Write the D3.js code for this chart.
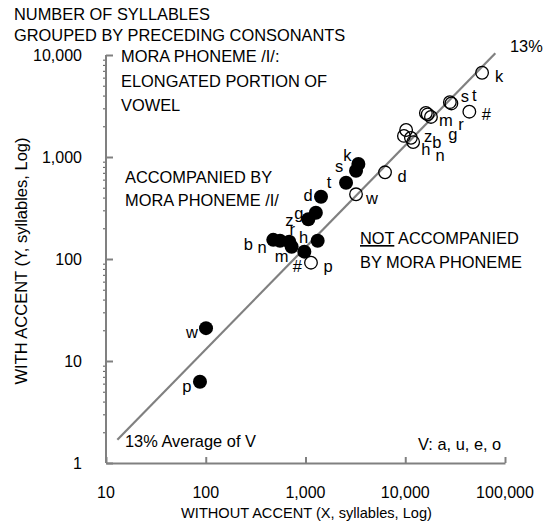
<!DOCTYPE html>
<html>
<head>
<meta charset="utf-8">
<script src="https://cdn.jsdelivr.net/npm/d3@7"></script>
<style>
  body { margin: 0; background: #fff; }
  text { font-family: "Liberation Sans", Arial, sans-serif; fill: #000; }
</style>
</head>
<body>
<div id="chart"></div>
<script>

// consonants, syllables without accent (x) and with accent (y)
var openLabels = ["k", "s", "t", "#", "m", "g", "r", "z", "h", "b", "n", "d", "w", "p"];
var openX = [58900, 28000, 29000, 43900, 16100, 16800, 18100, 10200, 9700, 11400, 12000, 6270, 3210, 1135];
var openY = [6700, 3450, 3350, 2780, 2700, 2620, 2470, 1840, 1610, 1540, 1400, 708, 431, 92];

var filledLabels = ["k", "s", "t", "d", "g", "z", "h", "b", "n", "r", "m", "#", "w", "p"];
var filledX = [3390, 3210, 2550, 1430, 1270, 1067, 1324, 475, 555, 687, 726, 973, 100.6, 87.5];
var filledY = [853, 734, 560, 408, 284, 245, 151, 154, 151, 148, 132, 118, 21, 6.27];

var xTicks = [10, 100, 1000, 10000, 100000];
var yTicks = [1, 10, 100, 1000, 10000];
var averageRate = 0.13;
var lineRange = [13, 80000];

var width = 543,
  height = 524,
  margin = {top: 55, right: 38, bottom: 61, left: 106},
  innerWidth = width - margin.left - margin.right,
  innerHeight = height - margin.top - margin.bottom;

var axisColor = "#808080";

var svg = d3.select("#chart").append("svg")
  .attr("width", width)
  .attr("height", height);

var g = svg.append("g")
  .attr("transform", "translate(" + margin.left + "," + margin.top + ")");

var xScale = d3.scaleLog().domain([10, 100000]).range([0, innerWidth]);
var yScale = d3.scaleLog().domain([1, 10000]).range([innerHeight, 0]);

// minor ticks on y (outside)
var yMinor = [];
yTicks.slice(0, -1).forEach(function(t) {
  for (var k = 2; k < 10; k++) yMinor.push(t * k);
});
g.append("g")
  .call(d3.axisLeft(yScale).tickValues(yMinor).tickSize(3).tickFormat(""))
  .call(function(a) {
    a.select(".domain").remove();
    a.selectAll("line").attr("stroke", "#555").attr("stroke-width", 1);
  });

// y axis: major ticks inside
var yAxisG = g.append("g")
  .call(d3.axisRight(yScale).tickValues(yTicks).tickSize(7).tickSizeOuter(0).tickFormat(""));
yAxisG.select(".domain").attr("stroke", axisColor).attr("stroke-width", 2)
  .attr("d", "M0," + yScale(10000) + "V" + yScale(1));
yAxisG.selectAll("line").attr("stroke", axisColor).attr("stroke-width", 2);

g.selectAll(".ylab")
  .data(yTicks)
  .enter().append("text")
  .attr("class", "ylab")
  .attr("x", -24)
  .attr("y", function(d) { return yScale(d) + 6; })
  .attr("text-anchor", "end")
  .attr("font-size", "16px")
  .text(d3.format(","));

// x axis: major ticks inside
var xAxisG = g.append("g")
  .attr("transform", "translate(0," + innerHeight + ")")
  .call(d3.axisTop(xScale).tickValues(xTicks).tickSize(6).tickSizeOuter(0).tickFormat(""));
xAxisG.select(".domain").attr("stroke", axisColor).attr("stroke-width", 2);
xAxisG.selectAll("line").attr("stroke", axisColor).attr("stroke-width", 2);

g.selectAll(".xlab")
  .data(xTicks)
  .enter().append("text")
  .attr("class", "xlab")
  .attr("x", function(d) { return xScale(d); })
  .attr("y", innerHeight + 35)
  .attr("text-anchor", "middle")
  .attr("font-size", "16px")
  .text(d3.format(","));

// axis titles
svg.append("text")
  .attr("x", margin.left + innerWidth / 2 + 1)
  .attr("y", 518)
  .attr("text-anchor", "middle")
  .attr("font-size", "14.6px")
  .text("WITHOUT ACCENT (X, syllables, Log)");

svg.append("text")
  .attr("transform", "translate(27," + (margin.top + innerHeight / 2 + 2) + ") rotate(-90)")
  .attr("text-anchor", "middle")
  .attr("font-size", "16.5px")
  .text("WITH ACCENT (Y, syllables, Log)");

// 13% average line
g.append("line")
  .attr("x1", xScale(lineRange[0]))
  .attr("y1", yScale(lineRange[0] * averageRate))
  .attr("x2", xScale(lineRange[1]))
  .attr("y2", yScale(lineRange[1] * averageRate))
  .attr("stroke", axisColor)
  .attr("stroke-width", 2.2);

// points
var openData = openLabels.map(function(c, i) { return {c: c, x: openX[i], y: openY[i]}; });
var filledData = filledLabels.map(function(c, i) { return {c: c, x: filledX[i], y: filledY[i]}; });

g.selectAll(".open")
  .data(openData)
  .enter().append("circle")
  .attr("class", "open")
  .attr("cx", function(d) { return xScale(d.x); })
  .attr("cy", function(d) { return yScale(d.y); })
  .attr("r", 6.3)
  .attr("fill", "none")
  .attr("stroke", "#000")
  .attr("stroke-width", 1.3);

g.selectAll(".filled")
  .data(filledData)
  .enter().append("circle")
  .attr("class", "filled")
  .attr("cx", function(d) { return xScale(d.x); })
  .attr("cy", function(d) { return yScale(d.y); })
  .attr("r", 7)
  .attr("fill", "#000");

// label offsets from each point (px), letters centred
var openOffsets = {
  "k": [17, 3], "s": [15, -6], "t": [23, -8], "#": [17, 3], "m": [20, 7],
  "g": [25, 20], "r": [30, 7], "z": [22, 6], "h": [22, 13], "b": [26, 4],
  "n": [27, 13], "d": [17, 4], "w": [16, 4], "p": [17, 4]
};
var filledOffsets = {
  "k": [-11, -9], "s": [-17, -4], "t": [-17, 0], "d": [-13, -1], "g": [-17, 0],
  "z": [-19, 1], "h": [-14, -4], "b": [-25, 4], "n": [-18, 6], "r": [3, -12],
  "m": [-10, 10], "#": [-7, 15], "w": [-14, 4], "p": [-13, 5]
};

function addLabels(data, offsets, cls) {
  g.selectAll("." + cls)
    .data(data)
    .enter().append("text")
    .attr("class", cls)
    .attr("x", function(d) { return xScale(d.x) + offsets[d.c][0]; })
    .attr("y", function(d) { return yScale(d.y) + offsets[d.c][1]; })
    .attr("text-anchor", "middle")
    .attr("dy", "0.35em")
    .attr("font-size", "16.5px")
    .text(function(d) { return d.c; });
}
addLabels(openData, openOffsets, "olab");
addLabels(filledData, filledOffsets, "flab");

// annotations
var notes = [
  {x: 14, y: 20, t: "NUMBER OF SYLLABLES"},
  {x: 14, y: 41, t: "GROUPED BY PRECEDING CONSONANTS"},
  {x: 121, y: 62, t: "MORA PHONEME /I/:"},
  {x: 121, y: 87, t: "ELONGATED PORTION OF"},
  {x: 121, y: 111, t: "VOWEL"},
  {x: 125, y: 183, t: "ACCOMPANIED BY"},
  {x: 125, y: 206, t: "MORA PHONEME  /I/"},
  {x: 360, y: 268, t: "BY MORA PHONEME"},
  {x: 510, y: 52, t: "13%"},
  {x: 125, y: 447, t: "13% Average of V"},
  {x: 418, y: 450, t: "V: a, u, e, o"}
];
svg.selectAll(".note")
  .data(notes)
  .enter().append("text")
  .attr("class", "note")
  .attr("x", function(d) { return d.x; })
  .attr("y", function(d) { return d.y; })
  .attr("font-size", "16.4px")
  .text(function(d) { return d.t; });

var notLine = svg.append("text")
  .attr("x", 360)
  .attr("y", 244)
  .attr("font-size", "16.4px");
notLine.append("tspan").attr("text-decoration", "underline").text("NOT");
notLine.append("tspan").text(" ACCOMPANIED");

</script>
</body>
</html>
